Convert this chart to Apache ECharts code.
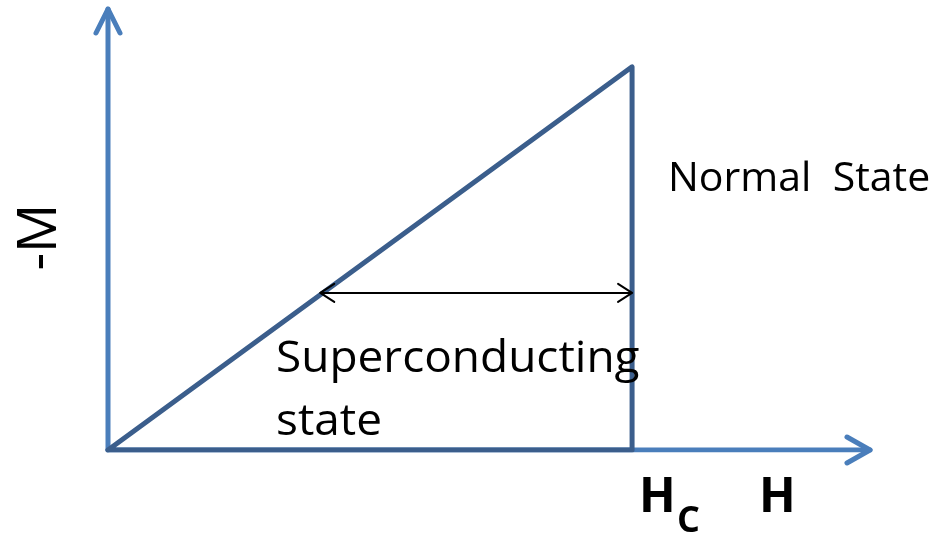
<!DOCTYPE html>
<html><head><meta charset="utf-8">
<script src="https://cdn.jsdelivr.net/npm/echarts@6/dist/echarts.min.js"></script>
<style>html,body{margin:0;padding:0;background:#fff}#c{width:936px;height:537px}</style>
</head><body><div id="c"></div>
<script>
// Data (normalized: H in units of Hc, -M in units of -M at Hc)
const H_MAX = 1.454;          // x-axis extent (arrow tip)
const M_MAX = 1.151;          // y-axis extent (arrow tip)
const triangle = [[0,0],[1,1],[1,0],[0,0]];   // -M rises linearly to Hc, then drops
const xAxisLine = [[0,0],[H_MAX,0]];
const yAxisLine = [[0,0],[0,M_MAX]];
const spanArrow = [[0.405,0.41],[1,0.41]];
const labels = { y: '-M', x: 'H', hc: 'H', hcSub: 'C', normal: 'Normal  State', sc1: 'Superconducting', sc2: 'state' };

const AXIS_C = '#4a7ebb', TRI_C = '#3b5e8c';
const FONT = '"Open Sans", "Noto Sans", sans-serif';

function chevron(armBack, armSide, color, width) {
  return function (params, api) {
    const p = api.coord([api.value(0), api.value(1)]);
    const d = api.value(2); // direction: 0 right, 1 up, 2 left
    let pts;
    if (d === 0) pts = [[p[0]-armBack, p[1]-armSide],[p[0],p[1]],[p[0]-armBack, p[1]+armSide]];
    else if (d === 1) pts = [[p[0]-armSide, p[1]+armBack],[p[0],p[1]],[p[0]+armSide, p[1]+armBack]];
    else pts = [[p[0]+armBack, p[1]-armSide],[p[0],p[1]],[p[0]+armBack, p[1]+armSide]];
    return { type: 'polyline', shape: { points: pts }, style: { stroke: color, lineWidth: width, fill: null, lineCap: 'round', lineJoin: 'round' } };
  };
}

const chart = echarts.init(document.getElementById('c'), null, { renderer: 'canvas' });
chart.setOption({
  animation: false,
  backgroundColor: '#fff',
  grid: { left: 108, right: 66, top: 9, bottom: 87 },
  xAxis: { type: 'value', min: 0, max: H_MAX, show: false },
  yAxis: { type: 'value', min: 0, max: M_MAX, show: false },
  series: [
    { type: 'line', data: xAxisLine, symbol: 'none', lineStyle: { color: AXIS_C, width: 5, cap: 'round' } },
    { type: 'line', data: yAxisLine, symbol: 'none', lineStyle: { color: AXIS_C, width: 5, cap: 'round' } },
    { type: 'custom', renderItem: chevron(23, 13, AXIS_C, 5), data: [[H_MAX, 0, 0]] },
    { type: 'custom', renderItem: chevron(24, 12, AXIS_C, 5), data: [[0, M_MAX, 1]] },
    { type: 'line', data: triangle, symbol: 'none', lineStyle: { color: TRI_C, width: 5, join: 'round', cap: 'round' } },
    { type: 'line', data: spanArrow, symbol: 'none', z: 5, lineStyle: { color: '#000', width: 2 } },
    { type: 'custom', z: 5, renderItem: chevron(14, 9, '#000', 2),
      data: [[spanArrow[0][0], spanArrow[0][1], 2], [spanArrow[1][0], spanArrow[1][1], 0]] }
  ],
  graphic: [
    { type: 'text', left: 668, top: 159, style: { text: labels.normal, font: '41px ' + FONT, fill: '#000' } },
    { type: 'text', x: 276, y: 337, scaleX: 1.045, z: 10, style: { text: labels.sc1, font: '44px ' + FONT, fill: '#000', verticalAlign: 'top' } },
    { type: 'text', x: 276, y: 400, scaleX: 1.045, style: { text: labels.sc2, font: '44px ' + FONT, fill: '#000', verticalAlign: 'top' } },
    { type: 'text', x: 68, y: 237, rotation: Math.PI/2, style: { text: labels.y, font: '55px ' + FONT, fill: '#000', align: 'center', verticalAlign: 'bottom' } },
    { type: 'text', left: 639, top: 474, style: { text: labels.hc, font: 'bold 48px ' + FONT, fill: '#000' } },
    { type: 'text', left: 677, top: 504, style: { text: labels.hcSub, font: 'bold 36px ' + FONT, fill: '#000' } },
    { type: 'text', left: 759, top: 474, style: { text: labels.x, font: 'bold 48px ' + FONT, fill: '#000' } }
  ]
});
</script></body></html>
